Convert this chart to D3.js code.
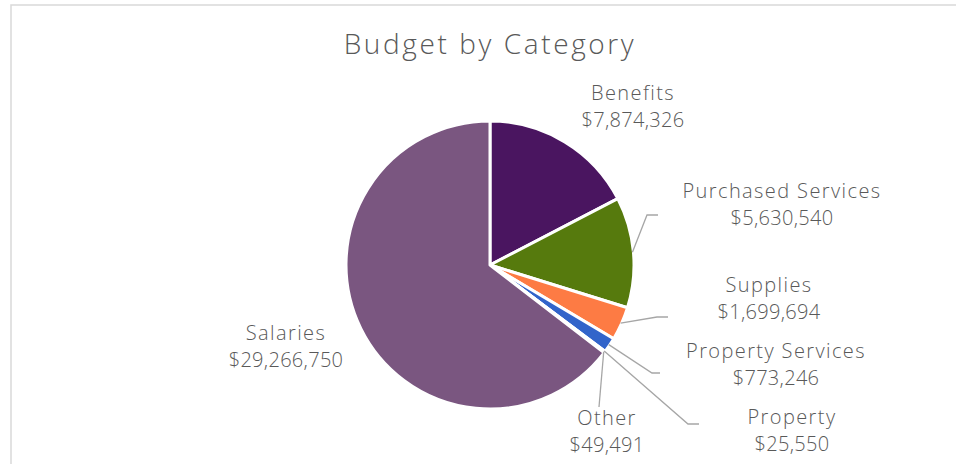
<!DOCTYPE html>
<html>
<head>
<meta charset="utf-8">
<script src="https://cdn.jsdelivr.net/npm/d3@7"></script>
<style>
  body { margin: 0; background: #fff; }
  text { font-family: "Open Sans", "Lato", sans-serif; font-weight: 300; fill: #595959; }
</style>
</head>
<body>
<div id="chart"></div>
<script>
const categories = ["Benefits", "Purchased Services", "Supplies", "Property Services", "Property", "Other", "Salaries"];
const budget = [7874326, 5630540, 1699694, 773246, 25550, 49491, 29266750];
const colors = ["#4a1560", "#567a0d", "#fd7b44", "#3264ca", "#9dbbe8", "#c9a9d0", "#7a5680"];

// where each label sits (center x, first line y) and leader bend
const labelPos = [
    {x: 633, y: 100, leader: null},
    {x: 782, y: 198, leader: [[647, 215], [658, 215]]},
    {x: 769, y: 292, leader: [[657, 317], [668, 317]]},
    {x: 776, y: 358, leader: [[652, 373], [660, 373]]},
    {x: 792, y: 424, leader: [[688, 424], [699, 424]]},
    {x: 607, y: 425, leader: [[599, 407]]},
    {x: 286, y: 340, leader: null}
];

let width = 956, height = 464;
let cx = 490, cy = 265, radius = 144;

let svg = d3.select("#chart").append("svg")
    .attr("width", width)
    .attr("height", height);

svg.append("rect")
    .attr("x", 11)
    .attr("y", 5)
    .attr("width", width)
    .attr("height", height)
    .attr("fill", "white")
    .attr("stroke", "#d9d9d9")
    .attr("stroke-width", 1.5);

svg.append("text")
    .attr("x", cx)
    .attr("y", 54)
    .attr("text-anchor", "middle")
    .style("font-size", "28px")
    .style("letter-spacing", "2.6px")
    .text("Budget by Category");

let data = categories.map((c, i) => ({name: c, value: budget[i], index: i}));

let pie = d3.pie().sort(null).value(d => d.value);
let arc = d3.arc().innerRadius(0).outerRadius(radius);
let arcs = pie(data);

let g = svg.append("g").attr("transform", "translate(" + cx + "," + cy + ")");

g.selectAll(".slice")
    .data(arcs)
    .enter().append("path")
    .attr("class", "slice")
    .attr("d", arc)
    .attr("fill", d => colors[d.data.index])
    .attr("stroke", "white")
    .attr("stroke-width", 3)
    .attr("stroke-linejoin", "round");

let fmt = d3.format("$,");

// leader lines
arcs.forEach((a, i) => {
    let lp = labelPos[i];
    if (!lp.leader) return;
    let mid = (a.startAngle + a.endAngle) / 2;
    let sx = cx + Math.sin(mid) * (radius - 1);
    let sy = cy - Math.cos(mid) * (radius - 1);
    let pts = [[sx, sy]].concat(lp.leader);
    svg.append("path")
        .attr("d", d3.line()(pts))
        .attr("fill", "none")
        .attr("stroke", "#a6a6a6")
        .attr("stroke-width", 1.3);
});

let labels = svg.selectAll(".label")
    .data(data)
    .enter().append("text")
    .attr("class", "label")
    .attr("text-anchor", "middle")
    .style("font-size", "20px")
    .attr("transform", d => "translate(" + labelPos[d.index].x + "," + labelPos[d.index].y + ")");

labels.append("tspan").attr("x", 0).attr("y", 0)
    .style("letter-spacing", "1.4px")
    .text(d => d.name);
labels.append("tspan").attr("x", 0).attr("y", 27)
    .style("letter-spacing", "0.3px")
    .text(d => fmt(d.value));
</script>
</body>
</html>
